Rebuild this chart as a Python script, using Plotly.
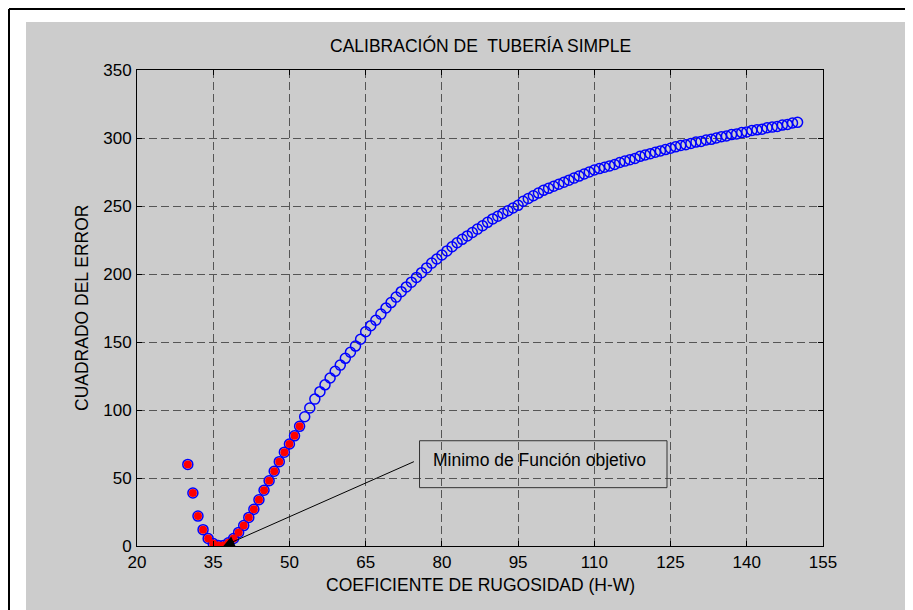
import plotly.graph_objects as go

# Data
hw = list(range(30, 151))
error_sq = [
    60, 39, 22, 12, 5.5, 1.8, 0.3, 0.4, 2.3, 5.5,          # 30-39
    10, 15, 21, 27, 34, 41, 48, 55, 62, 69,                 # 40-49
    75, 81, 88, 95, 101.5, 108, 113.5, 118.5, 123.5, 128.5,  # 50-59
    133, 138, 142.5, 147, 152, 157.5, 162, 166, 170.5, 175,  # 60-69
    179, 183, 187, 190.5, 194, 197.5, 201, 204.5, 208, 211,  # 70-79
    214, 217, 220, 223, 225.5, 228, 230.5, 233, 235.5, 238,  # 80-89
    240.5, 242.5, 244.5, 246.5, 248.5, 250.5, 253.5, 255.5, 257.5, 259.5,  # 90-99
    261.5, 263, 264.5, 266, 267.5, 269, 270.5, 272, 273.5, 275,  # 100-109
    276.5, 277.5, 278.5, 279.5, 280.5, 282, 283, 284, 285, 286.5,  # 110-119
    287.5, 288.5, 289.5, 290.5, 291.5, 292.5, 293.5, 294.5, 295, 296,  # 120-129
    297, 297.5, 298.5, 299, 300, 301, 301.5, 302.5, 303, 304,  # 130-139
    304.5, 305.5, 306, 306.5, 307.5, 308, 308.5, 309.5, 310, 311,  # 140-149
    311.5,  # 150
]
n_red = 23  # first points highlighted in red (30..52)

x_ticks = [20, 35, 50, 65, 80, 95, 110, 125, 140, 155]
y_ticks = [0, 50, 100, 150, 200, 250, 300, 350]

title_text = "CALIBRACIÓN DE  TUBERÍA SIMPLE"
x_label = "COEFICIENTE DE RUGOSIDAD (H-W)"
y_label = "CUADRADO DEL ERROR"
note_text = "Minimo de Función objetivo"

FONT = "Liberation Sans, Arial, sans-serif"

fig = go.Figure()
fig.add_trace(go.Scatter(
    x=hw, y=error_sq, mode="markers",
    marker=dict(symbol="circle-open", size=10, color="#0000ff",
                line=dict(width=1.5, color="#0000ff")),
    showlegend=False, hoverinfo="skip"))
fig.add_trace(go.Scatter(
    x=hw[:n_red], y=error_sq[:n_red], mode="markers",
    marker=dict(symbol="circle", size=8, color="#ff0000", line=dict(width=0)),
    showlegend=False, hoverinfo="skip"))

# page body adds an 8px offset; work in window pixel coordinates
OFF = 8
WIN_W, WIN_H = 913, 610
W, H = WIN_W - OFF, WIN_H - OFF
PL, PR, PT, PB = 137, 823, 70, 546  # plot box in window pixels
L, T = PL - OFF, PT - OFF
R = W - (PR - OFF)
B = H - (PB - OFF)
pw, ph = PR - PL, PB - PT

def px2x(px):
    return (px - PL) / pw

def py2y(py):
    return (PB - py) / ph

axis_common = dict(
    showline=True, linecolor="black", linewidth=1, mirror="ticks",
    ticks="inside", ticklen=5, tickcolor="black", tickwidth=1,
    showgrid=True, gridcolor="#555555", gridwidth=1, griddash="8px,4px",
    zeroline=False, tickfont=dict(family=FONT, size=17, color="black"),
    ticklabelstandoff=1,
)

fig.update_layout(
    width=W, height=H,
    margin=dict(l=L, r=R, t=T, b=B, pad=0),
    paper_bgcolor="white", plot_bgcolor="white",
    xaxis=dict(range=[20, 155], tickvals=x_ticks, **axis_common),
    yaxis=dict(range=[0, 350], tickvals=y_ticks, **axis_common),
    shapes=[
        dict(type="rect", xref="paper", yref="paper", layer="below",
             x0=px2x(26), x1=px2x(WIN_W + 20), y0=py2y(WIN_H + 20), y1=py2y(22),
             fillcolor="#cccccc", line=dict(width=0)),
        dict(type="line", xref="paper", yref="paper", layer="below",
             x0=px2x(9), x1=px2x(WIN_W + 20), y0=py2y(9), y1=py2y(9),
             line=dict(color="black", width=2)),
        dict(type="line", xref="paper", yref="paper", layer="below",
             x0=px2x(9), x1=px2x(9), y0=py2y(9), y1=py2y(WIN_H + 20),
             line=dict(color="black", width=2)),
        dict(type="rect", xref="x", yref="y", layer="above",
             x0=75.6, x1=124.3, y0=42.9, y1=77.4,
             line=dict(color="#333333", width=1), fillcolor="rgba(0,0,0,0)"),
    ],
    annotations=[
        dict(text=title_text, xref="paper", yref="paper", x=0.5, y=py2y(46),
             xanchor="center", yanchor="middle", showarrow=False,
             font=dict(family=FONT, size=17.5, color="black")),
        dict(text=x_label, xref="paper", yref="paper", x=0.5, y=py2y(585),
             xanchor="center", yanchor="middle", showarrow=False,
             font=dict(family=FONT, size=17.5, color="black")),
        dict(text=y_label, xref="paper", yref="paper", x=px2x(82), y=0.5,
             xanchor="center", yanchor="middle", showarrow=False, textangle=-90,
             font=dict(family=FONT, size=17.5, color="black")),
        dict(text=note_text, xref="x", yref="y", x=77.8, y=63.5,
             xanchor="left", yanchor="middle", showarrow=False,
             font=dict(family=FONT, size=17.5, color="black")),
        dict(text="", xref="x", yref="y", x=37, y=0, showarrow=True,
             ax=192, ay=-85, arrowhead=2, arrowsize=2.2, arrowwidth=1,
             arrowcolor="black", standoff=0),
    ],
)

fig.write_html("out.html")
